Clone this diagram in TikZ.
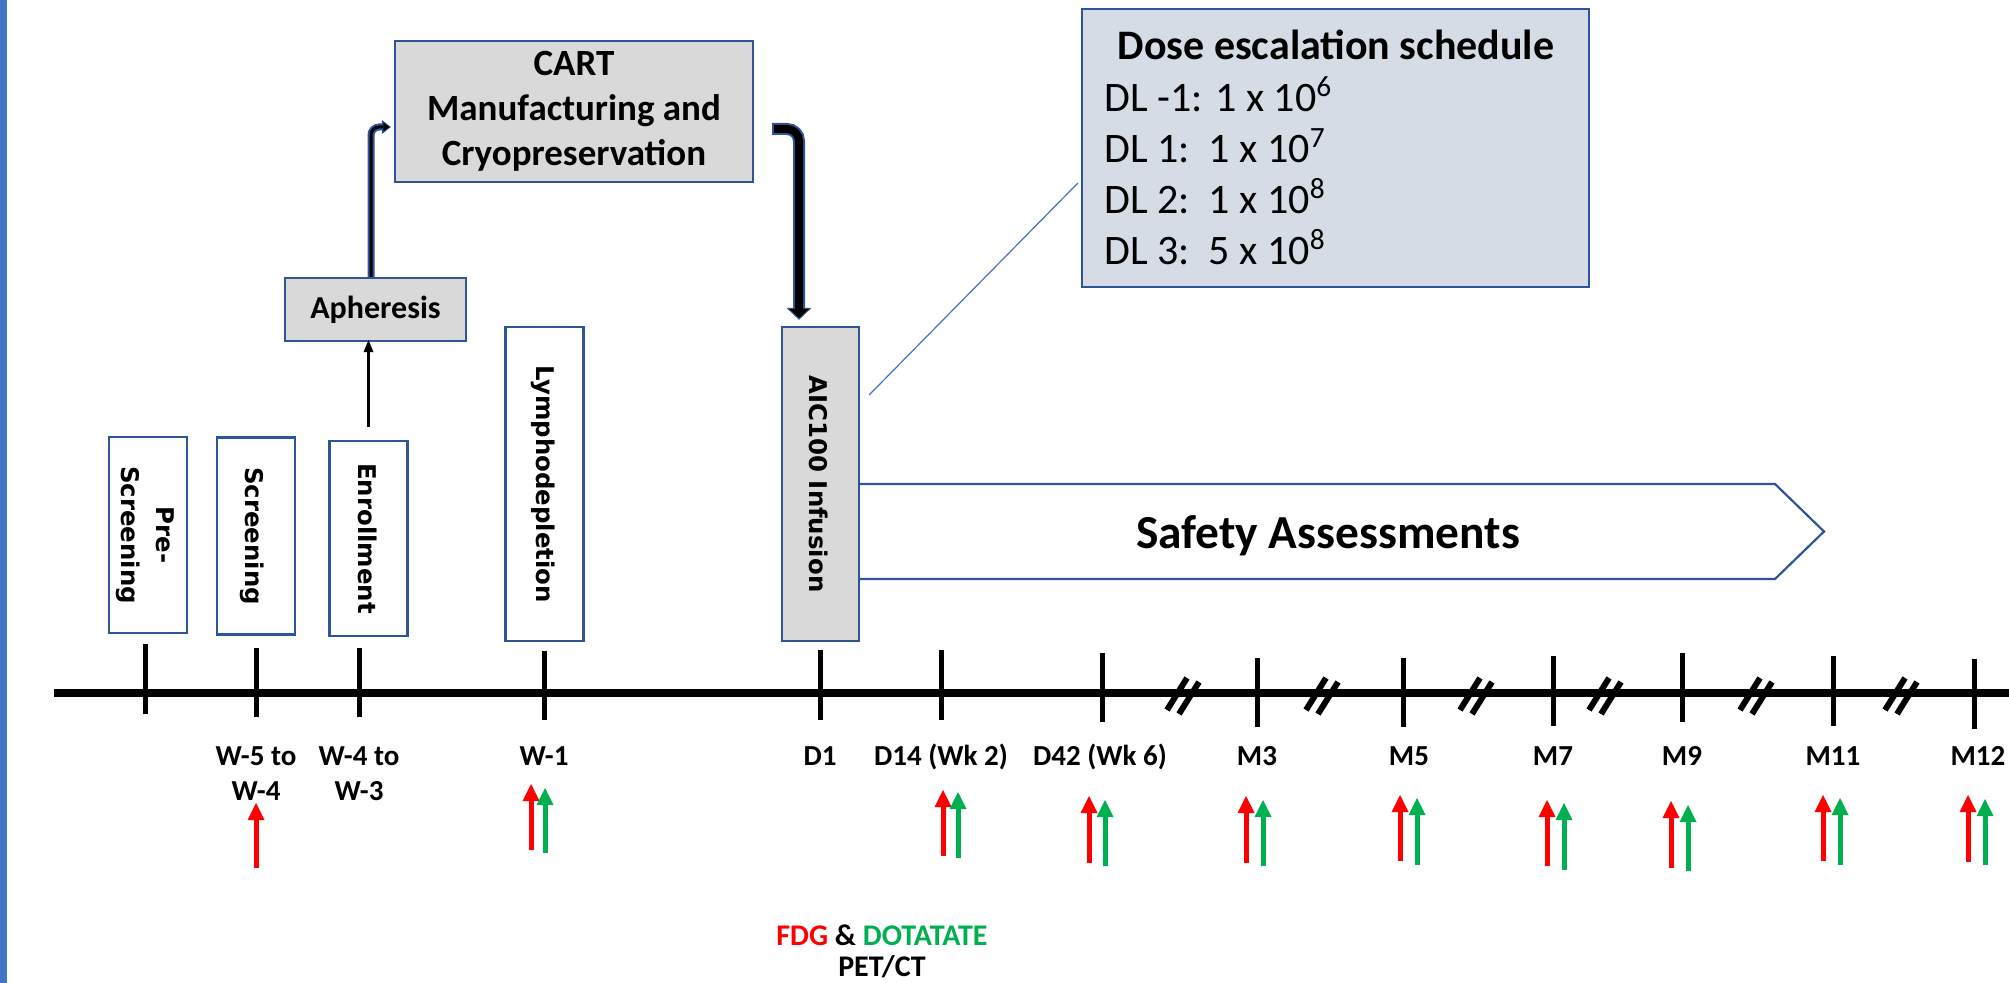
\documentclass[tikz,border=0pt]{standalone}
\usepackage{fontspec}
\setmainfont{Carlito}
\newfontfamily\vfont{DejaVu Sans}
\usetikzlibrary{arrows.meta}
\definecolor{boxblue}{HTML}{2F5597}
\definecolor{barblue}{HTML}{4472C4}
\definecolor{boxgray}{HTML}{D9D9D9}
\definecolor{dosefill}{HTML}{D6DCE5}
\definecolor{petred}{HTML}{FF0000}
\definecolor{petgreen}{HTML}{00B050}
\begin{document}
\begin{tikzpicture}[x=0.5pt,y=-0.5pt,
  box/.style={draw=boxblue, line width=1.1pt, inner sep=0pt},
  graybox/.style={box, fill=boxgray},
  vtext/.style={rotate=-90, font=\vfont\bfseries\fontsize{12.2}{17.5}\selectfont, align=center, inner sep=0pt},
  boxtext/.style={font=\bfseries\fontsize{18.5}{22.5}\selectfont, align=center},
  tlabel/.style={font=\bfseries\fontsize{14.5}{17}\selectfont, anchor=base, inner sep=0pt},
  tickmark/.style={line width=2.5pt},
  axisline/.style={line width=4pt},
  breakbar/.style={line width=3pt},
  petarrow/.style={line width=2.5pt, -{Triangle[width=8.5pt,length=8.5pt,line width=0pt]}},
  dosetext/.style={font=\fontsize{21}{25}\selectfont, anchor=base west, inner sep=0pt},
]
\useasboundingbox (0,0) rectangle (2009,983);
% left margin bar
\fill[barblue] (0,0) rectangle (7,983);

% process boxes
\node[graybox, minimum width=179pt, minimum height=70.5pt, boxtext] (cart) at (574,111.5) {CART\\Manufacturing and\\Cryopreservation};
\node[graybox, minimum width=90.5pt, minimum height=31.5pt, font=\bfseries\fontsize{16}{19}\selectfont] (aph) at (375.5,309.5) {Apheresis};
\node[box, fill=dosefill, minimum width=253.5pt, minimum height=139pt] (dose) at (1335.5,148) {};
\node[box, minimum width=39pt, minimum height=98pt] (pre) at (148,535) {};
\node[box, minimum width=39pt, minimum height=98.5pt] (scr) at (256,536) {};
\node[box, minimum width=39pt, minimum height=97.5pt] (enr) at (368.5,538.5) {};
\node[box, minimum width=39pt, minimum height=157pt] (lym) at (544.5,484) {};
\node[graybox, minimum width=38.5pt, minimum height=157pt] (aic) at (820.5,484) {};

% vertical labels
\node[vtext] at (145,535) {Pre-\\Screening};
\node[vtext] at (252,536) {Screening};
\node[vtext] at (367.5,538.5) {Enrollment};
\node[vtext] at (543.5,484) {Lymphodepletion};
\node[vtext] at (818.5,484) {AIC100 Infusion};

% dose schedule text
\node[font=\bfseries\fontsize{21}{25}\selectfont, anchor=base, inner sep=0pt] at (1336,60) {Dose escalation schedule};
\node[dosetext] at (1104,111.5) {DL -1: 1 x 10\textsuperscript{6}};
\node[dosetext] at (1104,163) {DL 1:\ \ 1 x 10\textsuperscript{7}};
\node[dosetext] at (1104,213.5) {DL 2:\ \ 1 x 10\textsuperscript{8}};
\node[dosetext] at (1104,265) {DL 3:\ \ 5 x 10\textsuperscript{8}};

% callout from infusion to schedule
\draw[barblue, line width=0.6pt] ([shift={(4.5pt,44.5pt)}]aic.east) -- ([shift={(-1.5pt,-17.5pt)}]dose.west);

% safety assessment band
\draw[boxblue, line width=1.1pt] (aic.east |- {(0,484)}) -- (1775,484) -- (1824,531.5) -- (1775,579) -- (aic.east |- {(0,579)});
\node[font=\bfseries\fontsize{23.7}{28}\selectfont, anchor=base, inner sep=0pt] at (1328,549) {Safety Assessments};

% enrollment to apheresis
\draw[line width=1.2pt, -{Triangle[width=5pt,length=6pt,line width=0pt]}, shorten >=5.5pt]
  ([yshift=6.5pt]enr.north) -- ([yshift=6.5pt]enr.north |- aph.south);

% apheresis to manufacturing
\draw[boxblue, line width=3.5pt, rounded corners=4pt, -{Triangle[width=7pt,length=4.5pt,line width=0pt]}]
  ([xshift=-2.25pt]aph.north) |- ([shift={(-1.5pt,-7.75pt)}]cart.west);
\draw[black, line width=1.5pt, rounded corners=4pt, shorten >=0.8pt, -{Triangle[width=4.5pt,length=3pt,line width=0pt]}]
  ([xshift=-2.25pt]aph.north) |- ([shift={(-1.5pt,-7.75pt)}]cart.west);

% manufacturing to infusion
\draw[boxblue, line width=6pt, rounded corners=6pt, -{Triangle[width=12.5pt,length=6pt,line width=0pt]}]
  ([shift={(9pt,-8.75pt)}]cart.east) -| ([shift={(-10.75pt,3pt)}]aic.north);
\draw[black, line width=4pt, rounded corners=6pt, shorten <=1pt, shorten >=1pt, -{Triangle[width=10pt,length=4.5pt,line width=0pt]}]
  ([shift={(9pt,-8.75pt)}]cart.east) -| ([shift={(-10.75pt,3pt)}]aic.north);

% timeline
\draw[axisline] (54,693) -- (2009,693);
\foreach \x/\t/\b in {145/644/714, 256/648/717, 359/648/717, 544/651/720, 820/650/720, 941/650/720,
  1102/653/722, 1257/658/727, 1403/658/727, 1553/656/726, 1682/653/722, 1833/656/726, 1974/659/729}
  \draw[tickmark] (\x,\t) -- (\x,\b);
\foreach \x in {1183,1322,1476,1605,1756,1901} {
  \draw[breakbar] (\x-16,710) -- (\x+4,678);
  \draw[breakbar] (\x-4,714) -- (\x+16,682);
}

% time point labels
\node[tlabel] at (256,766) {W-5 to};
\node[tlabel] at (256,800) {W-4};
\node[tlabel] at (359,766) {W-4 to};
\node[tlabel] at (359,800) {W-3};
\foreach \x/\s in {544/W-1, 820/D1, 941/D14 (Wk 2), 1100/D42 (Wk 6), 1257/M3, 1409/M5, 1553/M7, 1682/M9, 1833/M11, 1978/M12}
  \node[tlabel] at (\x,766) {\s};

% imaging markers
\foreach \x/\t/\b in {256/803/868, 531/784/850, 943/790/856, 1089/796/863, 1246/796/863, 1400/795/861,
  1547/800/866, 1671/801/868, 1823/795/861, 1968/795/862}
  \draw[petarrow, petred] (\x,\b) -- (\x,\t);
\foreach \x/\t/\b in {545/788/853, 958/792/858, 1105/800/866, 1263/800/866, 1417/798/865,
  1564/803/870, 1688/805/871, 1840/798/865, 1985/799/865}
  \draw[petarrow, petgreen] (\x,\b) -- (\x,\t);

% legend
\node[font=\bfseries\fontsize{15}{17}\selectfont, anchor=base, inner sep=0pt] at (882,945) {\textcolor{petred}{FDG} \& \textcolor{petgreen}{DOTATATE}};
\node[font=\bfseries\fontsize{15}{17}\selectfont, anchor=base, inner sep=0pt] at (882,976) {PET/CT};
\end{tikzpicture}
\end{document}
